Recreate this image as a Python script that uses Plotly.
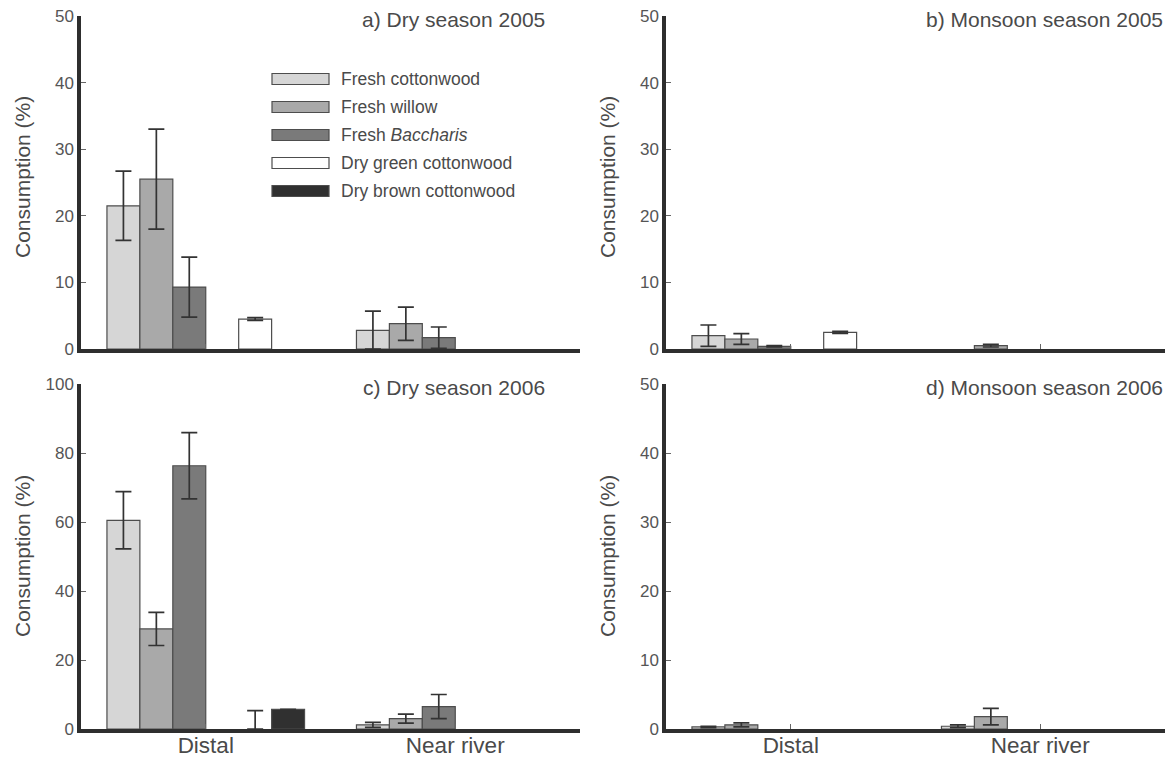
import plotly.graph_objects as go

# ---------------- data ----------------
sites = ["Distal", "Near river"]
series_names = ["Fresh cottonwood", "Fresh willow", "Fresh <i>Baccharis</i>",
                "Dry green cottonwood", "Dry brown cottonwood"]
series_colors = ["#d6d6d6", "#a9a9a9", "#7a7a7a", "#ffffff", "#303030"]

panel_titles = ["a) Dry season 2005", "b) Monsoon season 2005",
                "c) Dry season 2006", "d) Monsoon season 2006"]

# means [Distal, Near river] for each series
a_mean = [[21.5, 2.8], [25.5, 3.8], [9.3, 1.7], [4.5, 0.0], [0.0, 0.0]]
a_err = [[5.2, 2.9], [7.5, 2.5], [4.5, 1.6], [0.2, 0.0], [0.0, 0.0]]

b_mean = [[2.0, 0.0], [1.5, 0.5], [0.4, 0.0], [2.5, 0.0], [0.0, 0.0]]
b_err = [[1.6, 0.0], [0.8, 0.2], [0.1, 0.0], [0.15, 0.0], [0.0, 0.0]]

c_mean = [[60.5, 1.2], [29.0, 3.0], [76.3, 6.5], [0.0, 0.0], [5.7, 0.0]]
c_err = [[8.3, 0.7], [4.8, 1.3], [9.6, 3.5], [5.3, 0.0], [0.0, 0.0]]

d_mean = [[0.3, 0.4], [0.6, 1.8], [0.0, 0.0], [0.0, 0.0], [0.0, 0.0]]
d_err = [[0.1, 0.2], [0.3, 1.2], [0.0, 0.0], [0.0, 0.0], [0.0, 0.0]]

y_max = [50, 50, 100, 50]
y_dtick = [10, 10, 20, 10]

panels = [(a_mean, a_err), (b_mean, b_err), (c_mean, c_err), (d_mean, d_err)]

# ---------------- layout geometry ----------------
W, H = 1170, 759


def px_x(px):
    return px / W


def px_y(py):
    return 1 - py / H


xdom_left = [px_x(81), px_x(580)]
xdom_right = [px_x(666), px_x(1165)]
ydom_top = [px_y(349), px_y(16)]
ydom_bot = [px_y(729), px_y(384)]
domains = [(xdom_left, ydom_top), (xdom_right, ydom_top),
           (xdom_left, ydom_bot), (xdom_right, ydom_bot)]

FONT = "Liberation Sans, Arial, sans-serif"
TXT = "#4a4a4a"
AX = "#2e2e2e"

fig = go.Figure()

for p, (means, errs) in enumerate(panels):
    ax = "" if p == 0 else str(p + 1)
    xref, yref = "x" + ax, "y" + ax
    for s in range(5):
        if s == 3:
            # empty slot between fresh and dry leaves
            fig.add_trace(go.Bar(x=sites, y=[None, None], xaxis=xref, yaxis=yref,
                                 marker=dict(color="rgba(0,0,0,0)", line=dict(width=0)),
                                 showlegend=False, hoverinfo="skip"))
        m = means[s]
        e = errs[s]
        yv = [mi if (mi > 0 or ei > 0) else None for mi, ei in zip(m, e)]
        plus = [ei if ei > 0 else 0 for ei in e]
        minus = [min(ei, mi) for ei, mi in zip(e, m)]
        fig.add_trace(go.Bar(
            x=sites, y=yv, xaxis=xref, yaxis=yref,
            name=series_names[s], showlegend=False,
            marker=dict(color=series_colors[s],
                        line=dict(color="#4d4d4d",
                                  width=[1.2 if v > 0 else 0 for v in m])),
            error_y=dict(type="data", array=plus, arrayminus=minus,
                         color="#333333", thickness=1.7, width=8),
        ))

layout = dict(
    width=W, height=H,
    margin=dict(l=0, r=0, t=0, b=0, autoexpand=False),
    paper_bgcolor="white", plot_bgcolor="white",
    barmode="group", bargap=0.208, bargroupgap=0,
    font=dict(family=FONT, color=TXT),
    showlegend=False,
)

for p in range(4):
    ax = "" if p == 0 else str(p + 1)
    xd, yd = domains[p]
    layout["xaxis" + ax] = dict(
        domain=xd, anchor="y" + ax, type="category", range=[-0.5, 1.5],
        showline=True, linecolor=AX, linewidth=3.5, showgrid=False, zeroline=False,
        ticks="inside", ticklen=5, tickwidth=1, tickcolor="#666",
        showticklabels=(p >= 2), tickfont=dict(size=22.5, color=TXT, family=FONT),
        ticklabelstandoff=-7, ticklabeloverflow="allow",
        automargin=False, fixedrange=True,
    )
    layout["yaxis" + ax] = dict(
        domain=yd, anchor="x" + ax, range=[0, y_max[p]], dtick=y_dtick[p],
        showline=True, linecolor=AX, linewidth=3.5, showgrid=False, zeroline=False,
        ticks="inside", ticklen=5, tickwidth=1, tickcolor="#666",
        tickfont=dict(size=17, color="#555", family=FONT),
        ticklabeloverflow="allow",
        automargin=False, fixedrange=True,
    )

fig.update_layout(**layout)

# panel titles
title_pos = [(547, 20), (1165, 20), (547, 387), (1165, 387)]
for t, (px, py) in zip(panel_titles, title_pos):
    fig.add_annotation(text=t, xref="paper", yref="paper", x=px_x(px), y=px_y(py),
                       xanchor="right", yanchor="middle", showarrow=False,
                       font=dict(size=21, color=TXT, family=FONT))

# y-axis titles
ytitle_pos = [(22, 177), (607, 177), (22, 556), (607, 556)]
for px, py in ytitle_pos:
    fig.add_annotation(text="Consumption (%)", xref="paper", yref="paper",
                       x=px_x(px), y=px_y(py), textangle=-90, showarrow=False,
                       xanchor="center", yanchor="middle",
                       font=dict(size=21, color=TXT, family=FONT))

# legend (panel a)
leg_x0, leg_x1 = 272, 329
leg_rows = [79, 107, 135, 163, 191]
for name, col, ry in zip(series_names, series_colors, leg_rows):
    fig.add_shape(type="rect", xref="paper", yref="paper",
                  x0=px_x(leg_x0), x1=px_x(leg_x1),
                  y0=px_y(ry + 5.5), y1=px_y(ry - 5.5),
                  fillcolor=col, line=dict(color="#4d4d4d", width=1.2))
    fig.add_annotation(text=name, xref="paper", yref="paper",
                       x=px_x(339), y=px_y(ry), xanchor="left", yanchor="middle",
                       showarrow=False, font=dict(size=17.5, color=TXT, family=FONT))

fig.write_html("out.html", config={"displayModeBar": False},
               post_script="document.body.style.margin='0px';")
